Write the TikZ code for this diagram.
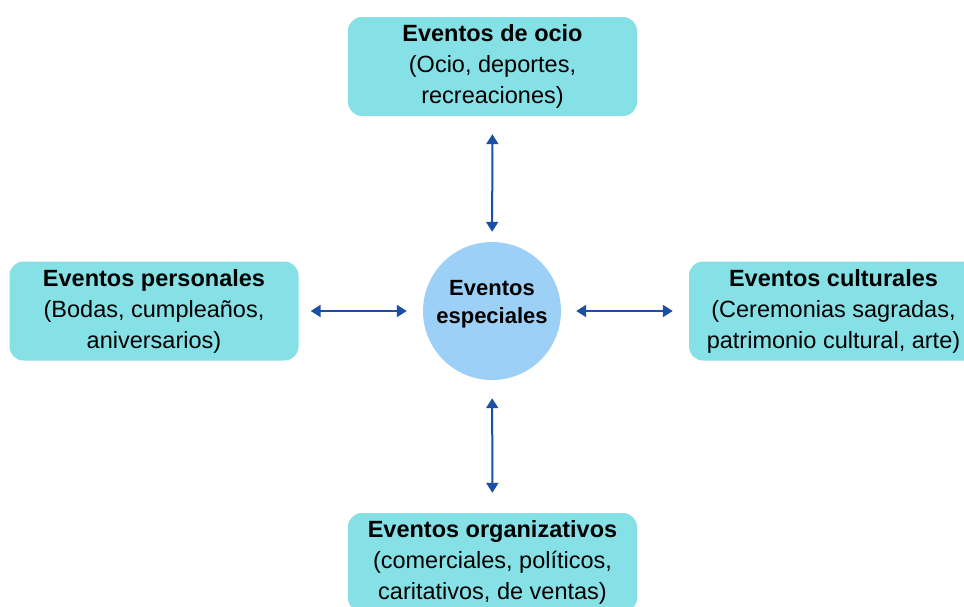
\documentclass[tikz,border=0pt]{standalone}
\usepackage{fontspec}
\setmainfont{Liberation Sans}
\usetikzlibrary{arrows.meta}

\definecolor{boxcyan}{HTML}{86E1E6}
\definecolor{hubblue}{HTML}{9DD0F7}
\definecolor{linkblue}{HTML}{1B4FA6}

\tikzset{
  evbox/.style={fill=boxcyan, rounded corners=14pt, minimum width=289pt,
    minimum height=99pt, align=center, inner sep=0pt,
    font=\fontsize{23.5}{31}\selectfont},
  hub/.style={circle, fill=hubblue, minimum size=138pt, inner sep=0pt},
  hubtext/.style={align=center, inner sep=0pt,
    font=\bfseries\fontsize{22}{28}\selectfont},
  link/.style={{Triangle[length=10pt,width=12pt]}-{Triangle[length=10pt,width=12pt]},
    line width=2pt, draw=linkblue},
}

\begin{document}
\begin{tikzpicture}[x=1pt, y=-1pt]
  \useasboundingbox (0,0) rectangle (964,606);
  \begin{scope}
    \clip (0,0) rectangle (964,606);
    % centre and the four kinds of events
    \node[hub] (esp) at (492,311) {};
    \node[hubtext] (esplabel) at ([yshift=7pt]esp.center) {Eventos\\especiales};
    \node[evbox] (ocio) at (492.5,66.5) {\textbf{Eventos de ocio}\\(Ocio, deportes,\\recreaciones)};
    \node[evbox] (pers) at (154,311) {\textbf{Eventos personales}\\(Bodas, cumpleaños,\\aniversarios)};
    \node[evbox] (cult) at (833.5,311) {\textbf{Eventos culturales}\\(Ceremonias sagradas,\\patrimonio cultural, arte)};
    \node[evbox] (org) at (492.5,562.5) {\textbf{Eventos organizativos}\\(comerciales, políticos,\\caritativos, de ventas)};
  \end{scope}
  % double-headed links
  \draw[link, shorten <=18pt, shorten >=10pt] (ocio) -- (esp);
  \draw[link, shorten <=18pt, shorten >=20pt] (esp) -- (org);
  \draw[link, shorten <=12pt, shorten >=16pt] (pers) -- (esp);
  \draw[link, shorten <=15pt, shorten >=16pt] (esp) -- (cult);
\end{tikzpicture}
\end{document}
